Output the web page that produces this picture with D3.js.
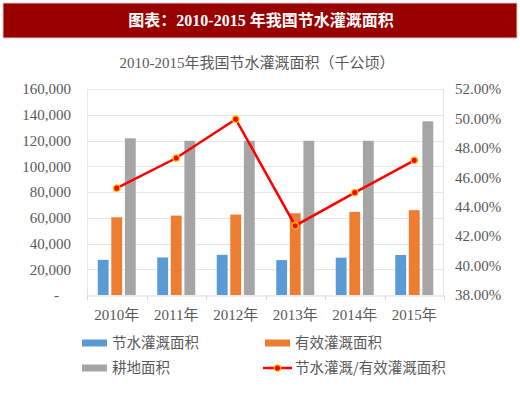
<!DOCTYPE html>
<html>
<head>
<meta charset="utf-8">
<script src="https://cdn.jsdelivr.net/npm/d3@7"></script>
<style>
  body { margin: 0; background: #fff; }
  svg text { font-family: "Liberation Serif", "Noto Sans CJK SC", serif; }
</style>
</head>
<body>
<script>
var years = ["2010年", "2011年", "2012年", "2013年", "2014年", "2015年"];
var saving = [27314, 29179, 31217, 27109, 29019, 31060];      // 节水灌溉面积
var effective = [60348, 61682, 62491, 63473, 64540, 65873];   // 有效灌溉面积
var farmland = [121700, 119800, 119800, 119800, 119800, 134900]; // 耕地面积
var ratio = [45.26, 47.31, 49.95, 42.71, 44.96, 47.15];       // 节水灌溉/有效灌溉面积 (%)
var leftTicks = [0, 20000, 40000, 60000, 80000, 100000, 120000, 140000, 160000];
var rightTicks = [38, 40, 42, 44, 46, 48, 50, 52];

var seriesNames = ["节水灌溉面积", "有效灌溉面积", "耕地面积"];
var seriesColors = ["#5B9BD5", "#ED7D31", "#A5A5A5"];
var seriesData = [saving, effective, farmland];

var w = 520, h = 399;
var pTop = 89, pBottom = 295, pLeft = 87, pRight = 444;

var svg = d3.select("body").append("svg")
    .attr("width", w)
    .attr("height", h);

// header bar
svg.append("rect")
    .attr("x", 3).attr("y", 3)
    .attr("width", 514).attr("height", 35)
    .attr("fill", "#990000")
    .attr("stroke", "#d8c8c8");
svg.append("text")
    .attr("x", 261).attr("y", 26)
    .attr("text-anchor", "middle")
    .attr("fill", "#fff")
    .style("font-size", "16px")
    .style("font-weight", "bold")
    .text("图表：2010-2015 年我国节水灌溉面积");

// chart title
svg.append("text")
    .attr("x", 257).attr("y", 68)
    .attr("text-anchor", "middle")
    .attr("fill", "#595959")
    .style("font-size", "15px")
    .text("2010-2015年我国节水灌溉面积（千公顷）");

var x = d3.scaleBand().domain(years).range([pLeft, pRight]);
var xs = d3.scaleBand().domain(seriesNames).range([-19, 19]).paddingInner(0.2);
var y = d3.scaleLinear().domain([0, 160000]).range([pBottom, pTop]);
var y2 = d3.scaleLinear().domain([38, 52]).range([pBottom, pTop]);

// gridlines
svg.append("g")
  .selectAll("line")
  .data(leftTicks.slice(1))
  .enter()
  .append("line")
    .attr("x1", pLeft).attr("x2", pRight)
    .attr("y1", function(d){ return Math.round(y(d)) + 0.5 })
    .attr("y2", function(d){ return Math.round(y(d)) + 0.5 })
    .attr("stroke", "#e6e6e6");

// plot side borders
svg.append("line").attr("x1", pLeft + 0.5).attr("x2", pLeft + 0.5)
    .attr("y1", pTop).attr("y2", pBottom).attr("stroke", "#e6e6e6");
svg.append("line").attr("x1", pRight - 0.5).attr("x2", pRight - 0.5)
    .attr("y1", pTop).attr("y2", pBottom).attr("stroke", "#e6e6e6");

// x axis
var xAxis = svg.append("g")
    .attr("transform", "translate(0," + (pBottom + 0.5) + ")")
    .call(d3.axisBottom(x).tickSize(0).tickPadding(14));
xAxis.select(".domain").attr("stroke", "#d9d9d9");
xAxis.selectAll("text")
    .attr("fill", "#595959")
    .style("font-size", "15px")
    .style("font-family", "'Liberation Serif', 'Noto Sans CJK SC', serif");
// category dividers
svg.append("g")
  .selectAll("line")
  .data(years.concat(["end"]))
  .enter()
  .append("line")
    .attr("x1", function(d, i){ return Math.round(pLeft + i * x.bandwidth()) + 0.5 })
    .attr("x2", function(d, i){ return Math.round(pLeft + i * x.bandwidth()) + 0.5 })
    .attr("y1", pBottom).attr("y2", pBottom + 5)
    .attr("stroke", "#d9d9d9");

// left axis
var yAxis = svg.append("g")
    .attr("transform", "translate(" + 71 + ",0)")
    .call(d3.axisLeft(y).tickValues(leftTicks).tickSize(0).tickPadding(0)
        .tickFormat(function(d){ return d === 0 ? "-" : d3.format(",")(d) }));
yAxis.select(".domain").remove();
yAxis.selectAll("text")
    .attr("fill", "#595959")
    .style("font-size", "15px")
    .attr("dx", function(d){ return d === 0 ? "-12" : "0" });

// right axis
var y2Axis = svg.append("g")
    .attr("transform", "translate(" + 455 + ",0)")
    .call(d3.axisRight(y2).tickValues(rightTicks).tickSize(0).tickPadding(0)
        .tickFormat(function(d){ return d.toFixed(2) + "%" }));
y2Axis.select(".domain").remove();
y2Axis.selectAll("text")
    .attr("fill", "#595959")
    .style("font-size", "15px");

// bars
seriesData.forEach(function(vals, s) {
  svg.append("g")
    .selectAll("rect")
    .data(vals)
    .enter()
    .append("rect")
      .attr("x", function(d, i){ return x(years[i]) + x.bandwidth() / 2 + xs(seriesNames[s]) })
      .attr("width", xs.bandwidth())
      .attr("y", function(d){ return y(d) })
      .attr("height", function(d){ return pBottom - y(d) })
      .attr("fill", seriesColors[s]);
});

// ratio line
var line = d3.line()
    .x(function(d, i){ return x(years[i]) + x.bandwidth() / 2 })
    .y(function(d){ return y2(d) });

svg.append("path")
    .datum(ratio)
    .attr("d", line)
    .attr("fill", "none")
    .attr("stroke", "#FF0000")
    .attr("stroke-width", 2.5);

svg.append("g")
  .selectAll("circle")
  .data(ratio)
  .enter()
  .append("circle")
    .attr("cx", function(d, i){ return x(years[i]) + x.bandwidth() / 2 })
    .attr("cy", function(d){ return y2(d) })
    .attr("r", 3.2)
    .attr("fill", "#FF0000")
    .attr("stroke", "#FFC000")
    .attr("stroke-width", 1.3);

// legend
var legend = [
  {name: "节水灌溉面积", color: "#5B9BD5", x: 82, y: 343, type: "bar"},
  {name: "有效灌溉面积", color: "#ED7D31", x: 265, y: 343, type: "bar"},
  {name: "耕地面积", color: "#A5A5A5", x: 82, y: 368, type: "bar"},
  {name: "节水灌溉/有效灌溉面积", color: "#FF0000", x: 263, y: 368, type: "line"}
];

var lg = svg.append("g").selectAll("g")
    .data(legend)
    .enter()
    .append("g")
    .attr("transform", function(d){ return "translate(" + d.x + "," + d.y + ")" });

lg.filter(function(d){ return d.type === "bar" })
  .append("rect")
    .attr("x", 0).attr("y", -3.5)
    .attr("width", 25).attr("height", 7)
    .attr("fill", function(d){ return d.color });

var ll = lg.filter(function(d){ return d.type === "line" });
ll.append("line")
    .attr("x1", 0).attr("x2", 29).attr("y1", 0).attr("y2", 0)
    .attr("stroke", "#FF0000").attr("stroke-width", 2.5);
ll.append("circle")
    .attr("cx", 14.5).attr("cy", 0).attr("r", 3.2)
    .attr("fill", "#FF0000").attr("stroke", "#FFC000").attr("stroke-width", 1.3);

lg.append("text")
    .attr("x", function(d){ return d.type === "line" ? 32 : 30 })
    .attr("y", 5)
    .attr("fill", "#595959")
    .style("font-size", "14.5px")
    .style("font-family", "'Noto Sans CJK SC', sans-serif")
    .text(function(d){ return d.name });
</script>
</body>
</html>
